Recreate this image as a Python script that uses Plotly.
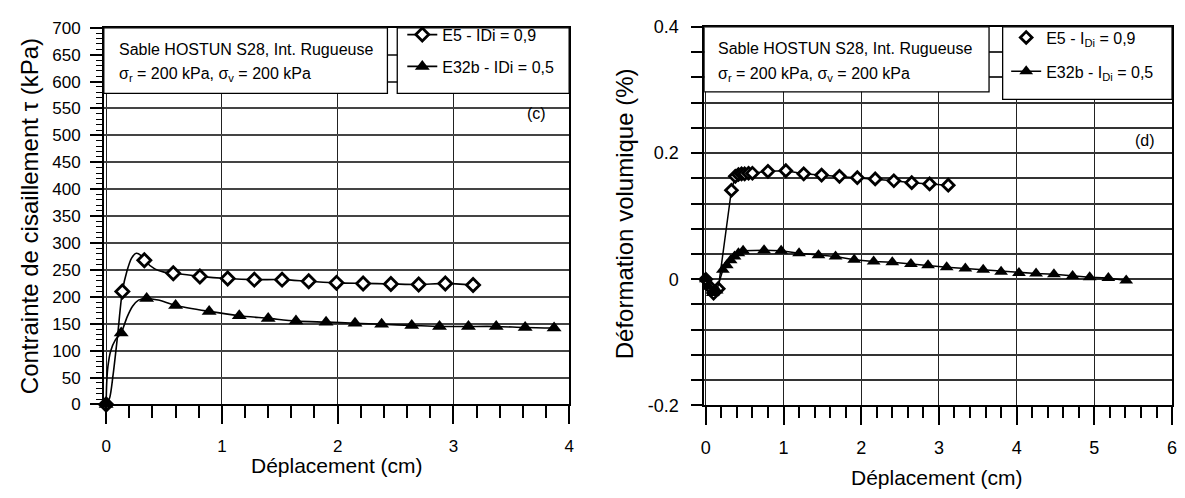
import plotly.graph_objects as go

# ---------------- data ----------------
# Left panel (c): shear stress vs displacement (markers = measured points, c*_cx/cy = extra curve points)
c_e5_mx = [0, 0.14, 0.33, 0.58, 0.81, 1.05, 1.28, 1.52, 1.75, 1.99, 2.22, 2.46, 2.70, 2.93, 3.17]
c_e5_my = [0, 210, 268, 244, 238, 234, 232, 232, 229, 226, 225, 224, 223, 225, 222]
c_e5_cx = [0.03, 0.06, 0.10, 0.18, 0.22, 0.26, 0.30, 0.42, 0.50]
c_e5_cy = [12, 55, 130, 248, 272, 281, 277, 252, 246]

c_e32_mx = [0, 0.13, 0.35, 0.60, 0.89, 1.15, 1.40, 1.64, 1.90, 2.15, 2.38, 2.64, 2.88, 3.13, 3.37, 3.62, 3.87]
c_e32_my = [0, 133, 197, 184, 173, 165, 160, 155, 153, 151, 149, 147, 145, 145, 145, 143, 142]
c_e32_cx = [0.005, 0.015, 0.04, 0.08, 0.18, 0.23, 0.28, 0.45]
c_e32_cy = [40, 70, 100, 120, 162, 183, 194, 194]

# Right panel (d): volumetric strain vs displacement
d_e5_x = [0, 0.05, 0.10, 0.16, 0.33, 0.38, 0.42, 0.46, 0.50, 0.55, 0.60, 0.80, 1.03, 1.26, 1.49,
          1.72, 1.95, 2.18, 2.42, 2.65, 2.88, 3.12]
d_e5_y = [0, -0.012, -0.022, -0.015, 0.141, 0.163, 0.166, 0.167, 0.167, 0.168, 0.168, 0.171, 0.172,
          0.167, 0.165, 0.163, 0.161, 0.159, 0.156, 0.153, 0.151, 0.149]

d_e32_x = [0, 0.04, 0.09, 0.14, 0.22, 0.27, 0.32, 0.37, 0.42, 0.48, 0.75, 0.97, 1.20, 1.45, 1.67,
           1.91, 2.16, 2.40, 2.64, 2.86, 3.10, 3.34, 3.57, 3.80, 4.03, 4.25, 4.48, 4.72, 4.94, 5.18, 5.41]
d_e32_y = [0, -0.012, -0.022, -0.018, 0.015, 0.022, 0.030, 0.036, 0.041, 0.045, 0.046, 0.045, 0.041,
           0.038, 0.036, 0.031, 0.028, 0.027, 0.024, 0.022, 0.019, 0.017, 0.015, 0.012, 0.010, 0.009,
           0.008, 0.005, 0.003, 0.002, -0.002]

# tick labels of panel (d) y axis
d_yticklabels = {-0.2: "-0.2", 0.0: "0", 0.2: "0.2", 0.4: "0.4"}

names_c = ["E5 - IDi = 0,9", "E32b - IDi = 0,5"]
names_d = ["E5 - I<sub>Di</sub> = 0,9", "E32b - I<sub>Di</sub> = 0,5"]
box_line1 = "Sable HOSTUN S28, Int. Rugueuse"
box_line2 = "σ<sub>r</sub> = 200 kPa, σ<sub>v</sub> = 200 kPa"

FONT = "Liberation Sans, Arial, sans-serif"
W, H = 1185, 498


def merge(mx, my, cx, cy):
    pts = [(x, y, True) for x, y in zip(mx, my)] + [(x, y, False) for x, y in zip(cx, cy)]
    pts.sort(key=lambda p: p[0])
    xs = [p[0] for p in pts]
    ys = [p[1] for p in pts]
    sel = [i for i, p in enumerate(pts) if p[2]]
    return xs, ys, sel


fig = go.Figure()

# ---- panel (c)
x1, y1, s1 = merge(c_e5_mx, c_e5_my, c_e5_cx, c_e5_cy)
fig.add_trace(go.Scatter(
    x=x1, y=y1, mode="lines+markers", name=names_c[0], legend="legend", legendgroup="a",
    line=dict(color="black", width=1.6, shape="spline", smoothing=0.8),
    marker=dict(symbol="diamond", size=10, color="white", line=dict(color="black", width=2.8)),
    selectedpoints=s1, unselected=dict(marker=dict(opacity=0)), cliponaxis=False,
    xaxis="x", yaxis="y"))
x2, y2, s2 = merge(c_e32_mx, c_e32_my, c_e32_cx, c_e32_cy)
fig.add_trace(go.Scatter(
    x=x2, y=y2, mode="lines+markers", name=names_c[1], legend="legend", legendgroup="b",
    line=dict(color="black", width=1.6, shape="spline", smoothing=0.8),
    marker=dict(symbol="triangle-up", size=13, color="black"),
    selectedpoints=s2, unselected=dict(marker=dict(opacity=0)), cliponaxis=False,
    xaxis="x", yaxis="y"))

# ---- panel (d)
fig.add_trace(go.Scatter(
    x=d_e5_x, y=d_e5_y, mode="lines", showlegend=False,
    line=dict(color="black", width=1.5), xaxis="x2", yaxis="y2", cliponaxis=False))
fig.add_trace(go.Scatter(
    x=d_e5_x, y=d_e5_y, mode="markers", name=names_d[0], legend="legend2", legendgroup="c",
    marker=dict(symbol="diamond", size=9, color="white", line=dict(color="black", width=2.8)),
    xaxis="x2", yaxis="y2", cliponaxis=False))
fig.add_trace(go.Scatter(
    x=d_e32_x, y=d_e32_y, mode="lines+markers", name=names_d[1], legend="legend2", legendgroup="d",
    line=dict(color="black", width=1.5),
    marker=dict(symbol="triangle-up", size=12, color="black"),
    xaxis="x2", yaxis="y2", cliponaxis=False))

common_axis = dict(showline=True, linecolor="black", linewidth=1.5, mirror=True,
                   ticks="outside", tickcolor="black", tickwidth=1.5, zeroline=False,
                   tickfont=dict(family=FONT, size=17, color="black"))

# tick positions of panel (d) y axis: every 0.04, labelled every 0.2
d_yvals = [float(round(-0.2 + i * 0.04, 2)) for i in range(16)]
d_ytext = [d_yticklabels.get(v, "") for v in d_yvals]

fig.update_layout(
    width=W, height=H, margin=dict(l=0, r=0, t=0, b=0),
    paper_bgcolor="white", plot_bgcolor="white",
    font=dict(family=FONT, color="black"),
    xaxis=dict(common_axis, domain=[101.5 / W, 570 / W], range=[-0.02, 4], anchor="y",
               tickmode="linear", tick0=0, dtick=1, ticklen=18, ticklabelstandoff=7,
               showgrid=True, gridcolor="#222", gridwidth=1.3,
               minor=dict(ticks="outside", tickmode="linear", tick0=0, dtick=0.2, ticklen=12,
                          tickcolor="black", tickwidth=1.5, showgrid=False)),
    yaxis=dict(common_axis, domain=[1 - 411 / H, 1 - 18.5 / H], range=[0, 700], anchor="x",
               tickmode="linear", tick0=0, dtick=50, ticklen=12, ticklabelstandoff=6,
               showgrid=True, gridcolor="#444", gridwidth=1.5,
               minor=dict(ticks="outside", tickmode="linear", tick0=0, dtick=10, ticklen=6,
                          tickcolor="black", tickwidth=1.3, showgrid=False)),
    xaxis2=dict(common_axis, domain=[706 / W, 1177 / W], range=[-0.02, 6], anchor="y2",
                tickmode="linear", tick0=0, dtick=1, ticklen=18, ticklabelstandoff=7,
                tickfont=dict(family=FONT, size=18, color="black"),
                showgrid=True, gridcolor="#222", gridwidth=1.3,
                minor=dict(ticks="outside", tickmode="linear", tick0=0, dtick=0.2, ticklen=11,
                           tickcolor="black", tickwidth=1.5, showgrid=False)),
    yaxis2=dict(common_axis, domain=[1 - 412 / H, 1 - 17.5 / H], range=[-0.2, 0.4], anchor="x2",
                tickmode="array", tickvals=d_yvals, ticktext=d_ytext,
                ticklen=11, ticklabelstandoff=9,
                tickfont=dict(family=FONT, size=18, color="black"),
                showgrid=True, gridcolor="#333", gridwidth=1.5),
    legend=dict(x=402 / W, y=1 - 8 / H, xanchor="left", yanchor="top",
                bgcolor="rgba(0,0,0,0)", borderwidth=0, traceorder="grouped",
                tracegroupgap=8, font=dict(family=FONT, size=16, color="black")),
    legend2=dict(x=1010 / W, y=1 - 11 / H, xanchor="left", yanchor="top",
                 bgcolor="rgba(0,0,0,0)", borderwidth=0, traceorder="grouped",
                 tracegroupgap=10, font=dict(family=FONT, size=16, color="black")),
)

# text / legend boxes
box = dict(type="rect", line=dict(color="black", width=1.3), fillcolor="white", layer="above")
fig.add_shape(box, xref="x", yref="y", x0=-0.02, x1=2.43, y0=578, y1=700)
fig.add_shape(box, xref="x", yref="y", x0=2.515, x1=4, y0=578, y1=700)
fig.add_shape(box, xref="x2", yref="y2", x0=-0.02, x1=3.645, y0=0.297, y1=0.4)
fig.add_shape(box, xref="x2", yref="y2", x0=3.82, x1=6, y0=0.285, y1=0.4)

txt = dict(showarrow=False, xanchor="left", yanchor="middle", font=dict(family=FONT, size=16, color="black"))
fig.add_annotation(txt, xref="x", yref="y", x=0.09, y=660, text=box_line1)
fig.add_annotation(txt, xref="x", yref="y", x=0.09, y=613, text=box_line2)
fig.add_annotation(txt, xref="x", yref="y", x=3.62, y=540, text="(c)")
fig.add_annotation(txt, xref="x2", yref="y2", x=0.13, y=0.365, text=box_line1)
fig.add_annotation(txt, xref="x2", yref="y2", x=0.13, y=0.324, text=box_line2)
fig.add_annotation(txt, xref="x2", yref="y2", x=5.5, y=0.22, text="(d)")

# axis titles
ttl = dict(showarrow=False, xref="paper", yref="paper", font=dict(family=FONT, size=21, color="black"))
fig.add_annotation(ttl, x=336 / W, y=1 - 475 / H, text="Déplacement (cm)", xanchor="center", yanchor="middle")
fig.add_annotation(ttl, x=940 / W, y=1 - 487 / H, text="Déplacement (cm)", xanchor="center", yanchor="middle")
fig.add_annotation(ttl, x=27 / W, y=1 - 215 / H, text="Contrainte de cisaillement τ (kPa)",
                   textangle=-90, xanchor="center", yanchor="middle", font=dict(family=FONT, size=24))
fig.add_annotation(ttl, x=626 / W, y=1 - 212 / H, text="Déformation volumique (%)",
                   textangle=-90, xanchor="center", yanchor="middle", font=dict(family=FONT, size=24))

fig.write_html("out.html")
